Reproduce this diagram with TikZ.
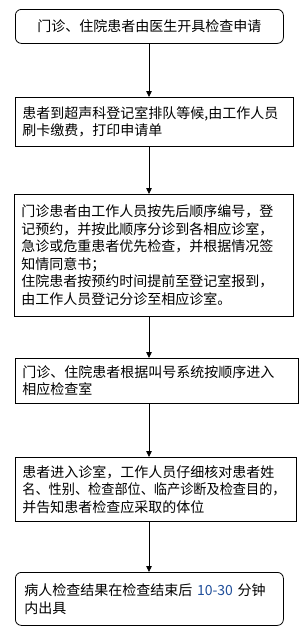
\documentclass[tikz,border=0pt]{standalone}
\usepackage{fontspec}
\newfontfamily\cjk{Noto Sans CJK SC}
\usetikzlibrary{arrows.meta,calc}
\definecolor{numblue}{HTML}{1F4E9A}
\begin{document}
\begin{tikzpicture}[x=1pt,y=-1pt,
  box/.style={draw=black, line width=0.8pt, anchor=north west, inner xsep=7pt, inner ysep=2pt,
    font=\cjk\fontsize{14}{17.5}\selectfont, align=left},
  rbox/.style={box, rounded corners=6pt},
  arr/.style={draw=black, line width=0.8pt, -{Triangle[width=5.5pt,length=6pt]}}]
\useasboundingbox (0,0) rectangle (305,630);
\coordinate (ax) at (149,0);
\node[rbox, minimum width=268pt, minimum height=34pt, text width=254pt, align=center] (b1) at (15,9)
  {门诊、住院患者由医生开具检查申请};
\node[box, minimum width=278pt, minimum height=49pt, text width=264pt] (b2) at (15,97)
  {患者到超声科登记室排队等候,由工作人员\\刷卡缴费，打印申请单};
\node[box, minimum width=279pt, minimum height=122pt, text width=265pt] (b3) at (14,194)
  {门诊患者由工作人员按先后顺序编号，登\\记预约，并按此顺序分诊到各相应诊室，\\急诊或危重患者优先检查，并根据情况签\\知情同意书；\\住院患者按预约时间提前至登记室报到，\\由工作人员登记分诊至相应诊室。};
\node[box, minimum width=283pt, minimum height=45pt, text width=269pt] (b4) at (15,358)
  {门诊、住院患者根据叫号系统按顺序进入\\相应检查室};
\node[box, minimum width=281pt, minimum height=64pt, text width=267pt] (b5) at (15,457)
  {患者进入诊室，工作人员仔细核对患者姓\\\scalebox{0.94}[1]{名、性别、检查部位、临产诊断及检查目的，}\\并告知患者检查应采取的体位};
\node[rbox, minimum width=268pt, minimum height=53pt, text width=250pt, inner xsep=9pt] (b6) at (15,572)
  {病人检查结果在检查结束后 \textcolor{numblue}{10-30} 分钟\\内出具};
\draw[arr] (b1.south -| ax) -- (b2.north -| ax);
\draw[arr] (b2.south -| ax) -- (b3.north -| ax);
\draw[arr] (b3.south -| ax) -- (b4.north -| ax);
\draw[arr] (b4.south -| ax) -- (b5.north -| ax);
\draw[arr] (b5.south -| ax) -- (b6.north -| ax);
\end{tikzpicture}
\end{document}
